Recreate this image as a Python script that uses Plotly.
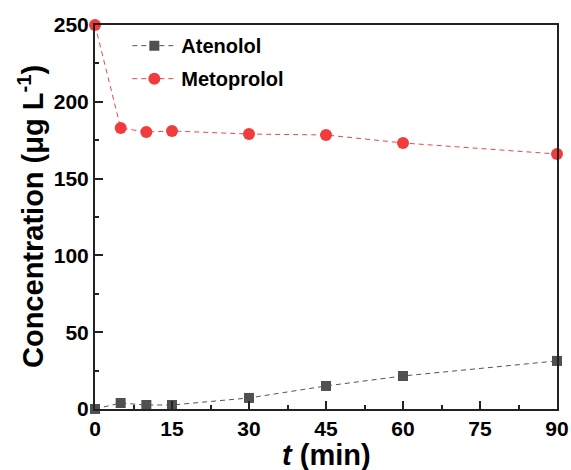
import plotly.graph_objects as go

t = [0, 5, 10, 15, 30, 45, 60, 90]
atenolol = [0, 3.9, 2.6, 2.6, 7.2, 15.0, 21.5, 31.3]
metoprolol = [250, 183, 180.3, 181, 179, 178.4, 173.2, 166]
x_ticks = [0, 15, 30, 45, 60, 75, 90]
y_ticks = [0, 50, 100, 150, 200, 250]

FONT = "Liberation Sans, Arial, sans-serif"

fig = go.Figure()
fig.add_trace(go.Scatter(
    x=t, y=atenolol, name="Atenolol", mode="lines+markers", legendgroup="a",
    line=dict(color="#555555", width=1, dash="5px,4px"),
    marker=dict(symbol="square", size=10, color="#505050"),
    cliponaxis=False))
fig.add_trace(go.Scatter(
    x=t, y=metoprolol, name="Metoprolol", mode="lines+markers", legendgroup="b",
    line=dict(color="#f04545", width=1, dash="5px,4px"),
    marker=dict(symbol="circle", size=12, color="#f03c3c"),
    cliponaxis=False))

fig.update_layout(
    width=571, height=470,
    margin=dict(l=95, r=14, t=25, b=61),
    paper_bgcolor="white", plot_bgcolor="white",
    font=dict(family=FONT, color="black"),
    showlegend=True,
    legend=dict(x=0.07, y=0.997, xanchor="left", yanchor="top",
                font=dict(size=20, family=FONT, weight="bold"), bgcolor="rgba(0,0,0,0)",
                tracegroupgap=4, itemwidth=44),
    xaxis=dict(range=[0, 90], tickvals=x_ticks, showgrid=False, zeroline=False,
               automargin=False,
               showline=True, linecolor="#222", linewidth=2, mirror=True,
               ticks="inside", ticklen=8, tickwidth=2, tickcolor="#222",
               minor=dict(dtick=7.5, ticks="inside", ticklen=4, tickwidth=1.5, tickcolor="#222"),
               tickfont=dict(size=21, family=FONT, weight="bold")),
    yaxis=dict(range=[0, 250], tickvals=y_ticks, showgrid=False, zeroline=False,
               automargin=False,
               showline=True, linecolor="#222", linewidth=2, mirror=True,
               ticks="inside", ticklen=8, tickwidth=2, tickcolor="#222",
               minor=dict(dtick=25, ticks="inside", ticklen=4, tickwidth=1.5, tickcolor="#222"),
               tickfont=dict(size=21, family=FONT, weight="bold")),
    annotations=[
        dict(text="<i>t</i> (min)", xref="paper", yref="paper", x=0.5, y=0,
             xanchor="center", yanchor="middle", yshift=-46, showarrow=False,
             font=dict(size=29, family=FONT, weight="bold")),
        dict(text="Concentration (μg L<sup>-1</sup>)", xref="paper", yref="paper",
             x=0, y=0.5, xanchor="center", yanchor="middle", xshift=-64,
             textangle=-90, showarrow=False,
             font=dict(size=29, family=FONT, weight="bold")),
    ],
)

fig.write_html("out.html")
